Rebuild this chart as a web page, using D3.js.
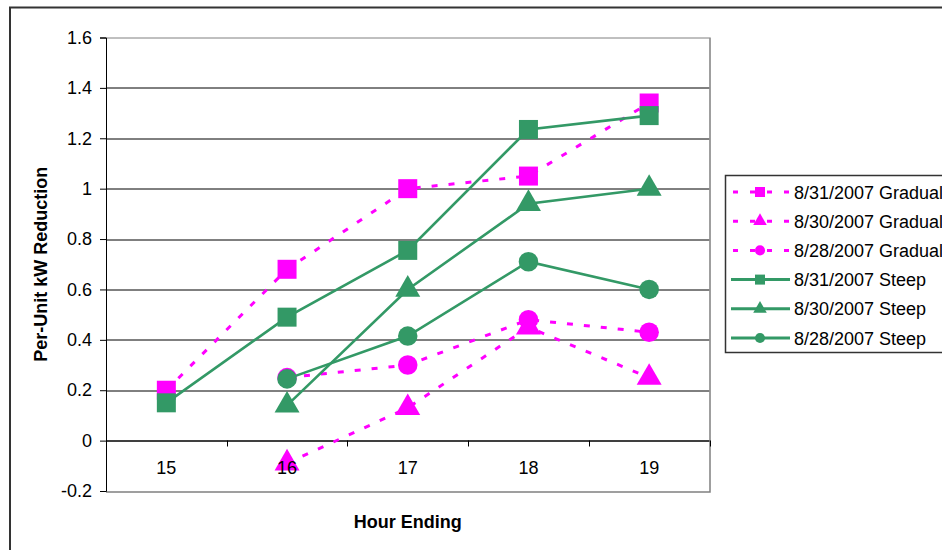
<!DOCTYPE html>
<html>
<head>
<meta charset="utf-8">
<script src="https://cdn.jsdelivr.net/npm/d3@7"></script>
<style>
  body { margin: 0; background: #fff; }
  text { font-family: "Liberation Sans", Arial, sans-serif; }
</style>
</head>
<body>
<div id="chart-area"></div>
<script>
// hours on the x axis
var hours = [15, 16, 17, 18, 19];
var yTicks = [-0.2, 0, 0.2, 0.4, 0.6, 0.8, 1, 1.2, 1.4, 1.6];

// series values (null = no point)
var gradual0831 = [0.20, 0.68, 1.00, 1.05, 1.34];
var gradual0830 = [null, -0.09, 0.13, 0.45, 0.25];
var gradual0828 = [null, 0.25, 0.30, 0.48, 0.43];
var steep0831 = [0.15, 0.49, 0.755, 1.235, 1.29];
var steep0830 = [null, 0.14, 0.60, 0.94, 1.00];
var steep0828 = [null, 0.245, 0.415, 0.71, 0.60];

var seriesNames = ["8/31/2007 Gradual", "8/30/2007 Gradual", "8/28/2007 Gradual",
    "8/31/2007 Steep", "8/30/2007 Steep", "8/28/2007 Steep"];

var magenta = "#ff00ff", green = "#339966";

var series = [
    {name: seriesNames[0], values: gradual0831, color: magenta, dashed: true, shape: "square"},
    {name: seriesNames[1], values: gradual0830, color: magenta, dashed: true, shape: "triangle"},
    {name: seriesNames[2], values: gradual0828, color: magenta, dashed: true, shape: "circle"},
    {name: seriesNames[3], values: steep0831, color: green, dashed: false, shape: "square"},
    {name: seriesNames[4], values: steep0830, color: green, dashed: false, shape: "triangle"},
    {name: seriesNames[5], values: steep0828, color: green, dashed: false, shape: "circle"}
];

var W = 942, H = 550;
var margin = {top: 37.5, left: 106, right: 232.5, bottom: 59};
var width = W - margin.left - margin.right,
    height = H - margin.top - margin.bottom;
var fontSize = 18;

var svg = d3.select("#chart-area").append("svg")
    .attr("width", W)
    .attr("height", H);

// outer chart border
svg.append("rect")
    .attr("x", 10).attr("y", 7.5)
    .attr("width", 960).attr("height", 600)
    .attr("fill", "none")
    .attr("stroke", "#333")
    .attr("stroke-width", 2);

var g = svg.append("g")
    .attr("transform", "translate(" + margin.left + "," + margin.top + ")");

var x = d3.scaleBand().domain(hours).range([0, width]);
var y = d3.scaleLinear().domain([-0.2, 1.6]).range([height, 0]);

// gridlines
g.append("g")
    .selectAll("line")
    .data(yTicks.filter(function(d) { return d > -0.2; }))
    .enter().append("line")
    .attr("x1", 0).attr("x2", width)
    .attr("y1", function(d) { return Math.round(y(d)) + 0.5; })
    .attr("y2", function(d) { return Math.round(y(d)) + 0.5; })
    .attr("stroke", function(d) { return d === 1.6 ? "#808080" : "#000"; })
    .attr("stroke-width", 1);

// plot area border (right, bottom)
g.append("path")
    .attr("d", "M" + (width + 0.5) + "," + Math.round(y(1.6)) + "V" + (Math.round(y(-0.2)) + 0.5) + "H0")
    .attr("fill", "none")
    .attr("stroke", "#808080")
    .attr("stroke-width", 1.5);

// y axis
var yAxis = g.append("g")
    .attr("class", "axis")
    .call(d3.axisLeft(y).tickValues(yTicks).tickSize(6).tickPadding(8)
        .tickFormat(function(d) { return String(+d.toFixed(1)); }));
yAxis.select(".domain").attr("stroke", "#000");
yAxis.selectAll("text").attr("font-size", fontSize).attr("fill", "#000")
    .attr("font-family", "Liberation Sans, Arial, sans-serif");

// x axis sitting at zero, ticks between categories
var xAxisG = g.append("g")
    .attr("transform", "translate(0," + Math.round(y(0)) + ")");
xAxisG.append("line")
    .attr("x1", 0).attr("x2", width)
    .attr("y1", 0.5).attr("y2", 0.5)
    .attr("stroke", "#000");
var bounds = hours.map(function(h) { return x(h); }).concat([width]);
xAxisG.selectAll(".xtick")
    .data(bounds)
    .enter().append("line")
    .attr("class", "xtick")
    .attr("x1", function(d) { return Math.round(d) + 0.5; })
    .attr("x2", function(d) { return Math.round(d) + 0.5; })
    .attr("y1", 0).attr("y2", 6)
    .attr("stroke", "#000");

// lines
var line = d3.line()
    .defined(function(d) { return d.v !== null; })
    .x(function(d) { return x(d.h) + x.bandwidth() / 2; })
    .y(function(d) { return y(d.v); });

function pts(s) {
    return s.values.map(function(v, i) { return {h: hours[i], v: v}; });
}

var shapes = {square: d3.symbolSquare, triangle: d3.symbolTriangle, circle: d3.symbolCircle};

// draw gradual first, steep on top
series.forEach(function(s) {
    g.append("path")
        .datum(pts(s))
        .attr("fill", "none")
        .attr("stroke", s.color)
        .attr("stroke-width", s.dashed ? 3 : 2.6)
        .attr("stroke-dasharray", s.dashed ? "6,11" : null)
        .attr("d", line);

    g.selectAll(null)
        .data(pts(s).filter(function(d) { return d.v !== null; }))
        .enter().append("path")
        .attr("transform", function(d) {
            return "translate(" + (x(d.h) + x.bandwidth() / 2) + "," + y(d.v) + ")";
        })
        .attr("d", d3.symbol().type(shapes[s.shape]).size(s.shape === "triangle" ? 270 : (s.shape === "circle" ? 300 : 361)))
        .attr("fill", s.color);
});

// category labels drawn over the markers
g.selectAll(".xlabel")
    .data(hours)
    .enter().append("text")
    .attr("class", "xlabel")
    .attr("x", function(d) { return x(d) + x.bandwidth() / 2; })
    .attr("y", Math.round(y(0)) + 33)
    .attr("text-anchor", "middle")
    .attr("font-size", fontSize)
    .text(function(d) { return d; });

// axis titles
svg.append("text")
    .attr("x", margin.left + width / 2)
    .attr("y", 528)
    .attr("text-anchor", "middle")
    .attr("font-size", fontSize)
    .attr("font-weight", "bold")
    .text("Hour Ending");

svg.append("text")
    .attr("transform", "translate(47," + (margin.top + height / 2) + ") rotate(-90)")
    .attr("text-anchor", "middle")
    .attr("font-size", fontSize)
    .attr("font-weight", "bold")
    .text("Per-Unit kW Reduction");

// legend
var legend = svg.append("g").attr("transform", "translate(725,175)");
legend.append("rect")
    .attr("x", 0.5).attr("y", 0.5)
    .attr("width", 240).attr("height", 177)
    .attr("fill", "#fff")
    .attr("stroke", "#333")
    .attr("stroke-width", 1.5);

var rows = legend.selectAll(".row")
    .data(series)
    .enter().append("g")
    .attr("class", "row")
    .attr("transform", function(d, i) { return "translate(0," + (17 + i * 29.2) + ")"; });

rows.append("line")
    .attr("x1", function(d) { return d.dashed ? 8 : 6; })
    .attr("x2", 65)
    .attr("y1", 0).attr("y2", 0)
    .attr("stroke", function(d) { return d.color; })
    .attr("stroke-width", 3)
    .attr("stroke-dasharray", function(d) { return d.dashed ? "5,12" : null; });

rows.append("path")
    .attr("transform", "translate(35,0)")
    .attr("d", function(d) {
        return d3.symbol().type(shapes[d.shape]).size(d.shape === "square" ? 100 : 80)();
    })
    .attr("fill", function(d) { return d.color; });

rows.append("text")
    .attr("x", 69)
    .attr("y", 6.5)
    .attr("font-size", fontSize)
    .text(function(d) { return d.name; });
</script>
</body>
</html>
